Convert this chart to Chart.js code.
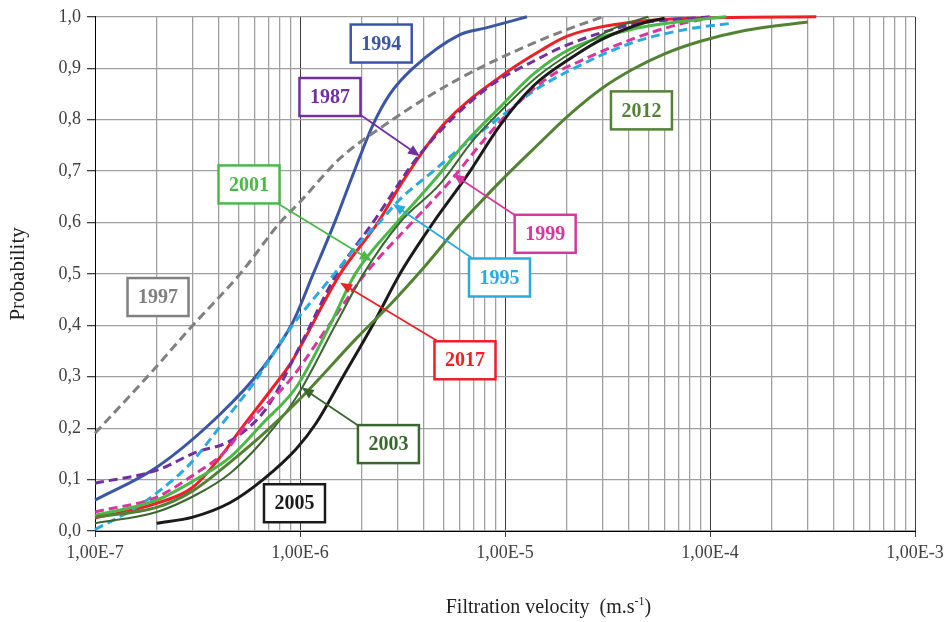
<!DOCTYPE html>
<html><head><meta charset="utf-8">
<script src="https://cdn.jsdelivr.net/npm/chart.js@4.4.0/dist/chart.umd.min.js"></script>
<style>html,body{margin:0;padding:0;background:#fff}#wrap{width:951px;height:622px}</style>
</head><body><div id="wrap"><canvas id="c" width="951" height="622"></canvas></div>
<script>
// ---- data (x = filtration velocity m/s, y = probability) ----
const x1997 = [1e-7,1.8e-7,3e-7,5.1e-7,8e-7,1e-6,1.57e-6,2.45e-6,3.85e-6,6e-6,9.5e-6,1.5e-5,2e-5,3e-5];
const y1997 = [0.19,0.30,0.40,0.50,0.60,0.64,0.725,0.783,0.835,0.88,0.92,0.955,0.975,1.0];

const x1994 = [1e-7,2e-7,4.1e-7,6.6e-7,9.2e-7,1.16e-6,1.51e-6,1.8e-6,2.27e-6,2.75e-6,3.56e-6,6e-6,8e-6,1.28e-5];
const y1994 = [0.06,0.124,0.228,0.318,0.405,0.50,0.61,0.69,0.79,0.85,0.90,0.965,0.978,1.0];

const x1987 = [1e-7,2e-7,3.1e-7,4.6e-7,6.9e-7,1e-6,1.51e-6,2.27e-6,3.85e-6,8.1e-6,1.48e-5,2e-5,4.2e-5,1e-4];
const y1987 = [0.093,0.118,0.153,0.176,0.24,0.36,0.50,0.60,0.733,0.86,0.92,0.945,0.985,1.0];

const x2017 = [1e-7,2e-7,3e-7,4.2e-7,5.1e-7,7.4e-7,9e-7,1.57e-6,2.4e-6,3.17e-6,5e-6,1e-5,1.5e-5,2e-5,4.2e-5,1e-4,3.3e-4];
const y2017 = [0.025,0.054,0.085,0.15,0.196,0.28,0.326,0.50,0.60,0.68,0.79,0.89,0.935,0.962,0.99,0.998,1.0];

const x1995 = [1e-7,1.5e-7,2e-7,2.9e-7,4.2e-7,6e-7,9.2e-7,1.47e-6,2e-6,2.5e-6,3.07e-6,4.47e-6,6.5e-6,9.5e-6,1.37e-5,2.1e-5,4.2e-5,8e-5,1.25e-4];
const y1995 = [0.003,0.04,0.074,0.13,0.21,0.29,0.40,0.50,0.565,0.605,0.645,0.70,0.755,0.805,0.855,0.897,0.95,0.977,0.987];

const x1999 = [1e-7,2e-7,3.1e-7,4.2e-7,5.7e-7,8.9e-7,1.4e-6,2.08e-6,3.52e-6,5.4e-6,7.8e-6,1.14e-5,1.67e-5,2.3e-5,4.2e-5,7e-5,1e-4];
const y1999 = [0.037,0.066,0.112,0.15,0.215,0.293,0.403,0.50,0.60,0.68,0.758,0.83,0.885,0.913,0.957,0.985,0.998];

const x2005 = [2e-7,3e-7,4.55e-7,6.6e-7,9.6e-7,1.2e-6,1.62e-6,2.26e-6,3.07e-6,4.47e-6,6.5e-6,9.5e-6,1.37e-5,2.2e-5,3e-5,4.9e-5,6e-5];
const y2005 = [0.015,0.027,0.055,0.10,0.16,0.21,0.30,0.40,0.50,0.60,0.69,0.79,0.865,0.925,0.957,0.99,0.997];

const x2012 = [1e-7,2e-7,3e-7,4.6e-7,6.9e-7,1.03e-6,1.9e-6,2.75e-6,3.97e-6,6e-6,9.5e-6,1.48e-5,2e-5,3e-5,4.2e-5,6e-5,8.9e-5,1.5e-4,3e-4];
const y2012 = [0.027,0.046,0.078,0.135,0.195,0.262,0.376,0.44,0.51,0.595,0.68,0.755,0.805,0.862,0.898,0.928,0.952,0.974,0.99];

const x2001 = [1e-7,2e-7,3.1e-7,4.55e-7,6.6e-7,9.6e-7,1.41e-6,1.86e-6,2.97e-6,4.47e-6,6.5e-6,9.5e-6,1.37e-5,2.1e-5,4.2e-5,9e-5,1.2e-4];
const y2001 = [0.03,0.06,0.10,0.143,0.21,0.28,0.403,0.50,0.60,0.68,0.758,0.825,0.888,0.938,0.976,0.995,1.0];

const x2003 = [1e-7,2e-7,3.1e-7,4.55e-7,6.6e-7,9.6e-7,1.5e-6,2.04e-6,3.07e-6,4.8e-6,7e-6,1e-5,1.45e-5,2.2e-5,3.5e-5,5e-5];
const y2003 = [0.015,0.037,0.07,0.112,0.176,0.26,0.403,0.50,0.60,0.674,0.76,0.825,0.885,0.935,0.98,1.0];

const xTickDecades = [1e-7,1e-6,1e-5,1e-4,1e-3];
const xTickLabels = ['1,00E-7','1,00E-6','1,00E-5','1,00E-4','1,00E-3'];
const yTickStep = 0.1;

// ---- series styles ----
const series = [
  {label:'2012', xs:x2012, ys:y2012, color:'#548235', width:3, dash:[]},
  {label:'2005', xs:x2005, ys:y2005, color:'#1a1a1a', width:3, dash:[]},
  {label:'2003', xs:x2003, ys:y2003, color:'#3b6630', width:2, dash:[]},
  {label:'2001', xs:x2001, ys:y2001, color:'#4cb848', width:3, dash:[]},
  {label:'1999', xs:x1999, ys:y1999, color:'#d9369d', width:3, dash:[9,5]},
  {label:'1995', xs:x1995, ys:y1995, color:'#29abe2', width:3, dash:[9,5]},
  {label:'1987', xs:x1987, ys:y1987, color:'#7030a0', width:3, dash:[9,5]},
  {label:'2017', xs:x2017, ys:y2017, color:'#ee1f25', width:3, dash:[]},
  {label:'1997', xs:x1997, ys:y1997, color:'#808080', width:3, dash:[9,5]},
  {label:'1994', xs:x1994, ys:y1994, color:'#3b56a5', width:3, dash:[]}
];

// annotation boxes (data coords) and optional arrows (from -> to, data coords)
const notes = [
  {text:'1994', color:'#3b56a5', x:2.49e-6, y:0.948},
  {text:'1987', color:'#7030a0', x:1.40e-6, y:0.844, ax:1.96e-6, ay:0.81, tx:3.85e-6, ty:0.729},
  {text:'2001', color:'#4cb848', x:5.64e-7, y:0.674, ax:7.72e-7, ay:0.638, tx:2.24e-6, ty:0.525},
  {text:'1997', color:'#808080', x:2.03e-7, y:0.455},
  {text:'2012', color:'#548235', x:4.63e-5, y:0.818},
  {text:'1999', color:'#d9369d', x:1.57e-5, y:0.578, ax:1.12e-5, ay:0.614, tx:5.58e-6, ty:0.694},
  {text:'1995', color:'#29abe2', x:9.4e-6, y:0.493, ax:6.9e-6, ay:0.531, tx:2.84e-6, ty:0.636},
  {text:'2017', color:'#ee1f25', x:6.38e-6, y:0.332, ax:4.66e-6, ay:0.370, tx:1.57e-6, ty:0.483},
  {text:'2003', color:'#3b6630', x:2.70e-6, y:0.169, ax:1.92e-6, ay:0.205, tx:1.02e-6, ty:0.279},
  {text:'2005', color:'#1a1a1a', x:9.4e-7, y:0.054}
];

const SERIF = '"Liberation Serif","Times New Roman",serif';
const isDecade = v => Math.abs(Math.log10(v) - Math.round(Math.log10(v))) < 1e-6;

const annot = {
  id:'annot',
  afterDatasetsDraw(chart){
    const ctx = chart.ctx, xs = chart.scales.x, ys = chart.scales.y;
    ctx.save();
    notes.forEach(n => {
      if (n.ax === undefined) return;
      const x0 = xs.getPixelForValue(n.ax), y0 = ys.getPixelForValue(n.ay);
      const x1 = xs.getPixelForValue(n.tx), y1 = ys.getPixelForValue(n.ty);
      const ang = Math.atan2(y1-y0, x1-x0), L = 12, W = 5;
      ctx.strokeStyle = n.color; ctx.fillStyle = n.color; ctx.lineWidth = 1.8;
      ctx.beginPath(); ctx.moveTo(x0,y0);
      ctx.lineTo(x1 - Math.cos(ang)*L*0.8, y1 - Math.sin(ang)*L*0.8); ctx.stroke();
      ctx.beginPath(); ctx.moveTo(x1,y1);
      ctx.lineTo(x1 - Math.cos(ang)*L - Math.sin(ang)*W, y1 - Math.sin(ang)*L + Math.cos(ang)*W);
      ctx.lineTo(x1 - Math.cos(ang)*L + Math.sin(ang)*W, y1 - Math.sin(ang)*L - Math.cos(ang)*W);
      ctx.closePath(); ctx.fill();
    });
    notes.forEach(n => {
      const cx = xs.getPixelForValue(n.x), cy = ys.getPixelForValue(n.y);
      const w = 61, h = 38;
      ctx.fillStyle = '#fff'; ctx.fillRect(cx-w/2, cy-h/2, w, h);
      ctx.strokeStyle = n.color; ctx.lineWidth = 2.5; ctx.strokeRect(cx-w/2, cy-h/2, w, h);
      ctx.fillStyle = n.color; ctx.font = 'bold 20px ' + SERIF;
      ctx.textAlign = 'center'; ctx.textBaseline = 'middle';
      ctx.fillText(n.text, cx, cy+1);
    });
    ctx.restore();
  },
  afterDraw(chart){
    const ctx = chart.ctx;
    ctx.save();
    ctx.fillStyle = '#222';
    ctx.textBaseline = 'alphabetic';
    const main = 'Filtration velocity  (m.s', sup = '-1', end = ')';
    ctx.font = '20px ' + SERIF; const w1 = ctx.measureText(main).width, w3 = ctx.measureText(end).width;
    ctx.font = '12px ' + SERIF; const w2 = ctx.measureText(sup).width;
    const total = w1 + w2 + w3;
    const ca = chart.chartArea;
    let x = ca.left + (ca.right - ca.left) * 0.553 - total/2, y = 613;
    ctx.textAlign = 'left';
    ctx.font = '20px ' + SERIF; ctx.fillText(main, x, y); x += w1;
    ctx.font = '12px ' + SERIF; ctx.fillText(sup, x, y - 8); x += w2;
    ctx.font = '20px ' + SERIF; ctx.fillText(end, x, y);
    ctx.restore();
  }
};

new Chart(document.getElementById('c'), {
  type:'line',
  data:{
    datasets: series.map(s => ({
      label:s.label,
      data:s.xs.map((x,i)=>({x:x, y:s.ys[i]})),
      borderColor:s.color, backgroundColor:s.color,
      borderWidth:s.width, borderDash:s.dash, borderCapStyle:'butt',
      pointRadius:0, fill:false, cubicInterpolationMode:'monotone', clip:false
    }))
  },
  options:{
    responsive:false, animation:false, devicePixelRatio:1,
    layout:{padding:{top:15, right:36, left:0, bottom:0}},
    plugins:{legend:{display:false}, tooltip:{enabled:false}},
    scales:{
      x:{
        type:'logarithmic', min:1e-7, max:1e-3, position:'bottom',
        afterBuildTicks(scale){
          const t = [];
          for (let d = -7; d < -3; d++) for (let m = 1; m <= 9; m++) t.push({value: m * Math.pow(10, d)});
          t.push({value:1e-3});
          scale.ticks = t;
        },
        afterFit(scale){ scale.height = 91; },
        ticks:{
          autoSkip:false, maxRotation:0, minRotation:0, padding:5,
          color:'#404040', font:{family:SERIF, size:18},
          callback(v){
            const i = xTickDecades.findIndex(d => Math.abs(d - v)/d < 1e-6);
            return i >= 0 ? xTickLabels[i] : '';
          }
        },
        grid:{
          color: c => (c.tick && isDecade(c.tick.value)) ? '#3a3a3a' : '#a0a0a0',
          lineWidth: c => (c.tick && isDecade(c.tick.value)) ? 1 : 1.3,
          tickColor: c => (c.tick && isDecade(c.tick.value)) ? '#3a3a3a' : 'rgba(0,0,0,0)',
          tickLength:6, drawTicks:true
        },
        border:{display:true, color:'#000', width:1}
      },
      y:{
        min:0, max:1,
        afterFit(scale){ scale.width = 95; },
        ticks:{
          stepSize:yTickStep, padding:6, color:'#404040', font:{family:SERIF, size:18},
          callback:v => v.toFixed(1).replace('.', ',')
        },
        grid:{color:'#a0a0a0', lineWidth:1.3, tickColor:'#404040', tickLength:8},
        border:{display:true, color:'#000', width:1},
        title:{display:true, text:'Probability', color:'#222', font:{family:SERIF, size:21}, padding:{top:6, bottom:0}}
      }
    }
  },
  plugins:[annot]
});
</script>
</body></html>
